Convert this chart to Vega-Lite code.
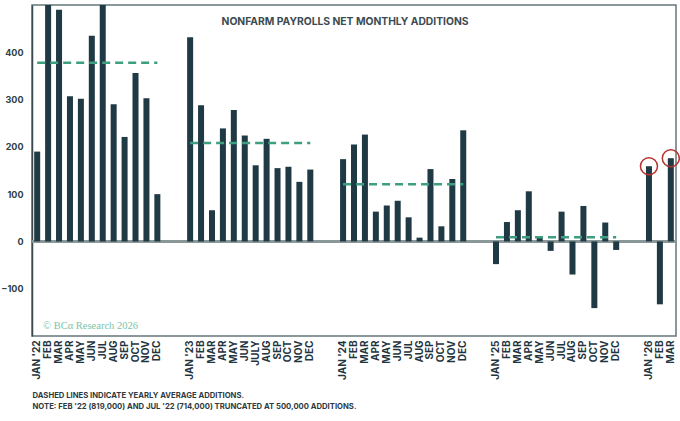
{
  "$schema": "https://vega.github.io/schema/vega-lite/v6.json",
  "width": 644,
  "height": 331,
  "autosize": {"type": "none"},
  "padding": {"left": 32, "top": 5, "right": 4, "bottom": 85},
  "title": {
    "text": "NONFARM PAYROLLS NET MONTHLY ADDITIONS",
    "anchor": "middle",
    "offset": -22,
    "dx": -9,
    "fontSize": 10.3,
    "fontWeight": "bold",
    "font": "Inter",
    "color": "#3b4b51"
  },
  "datasets": {
    "payrolls": [
      {"month": "JAN '22", "value": 190},
      {"month": "FEB|22", "value": 500},
      {"month": "MAR|22", "value": 490},
      {"month": "APR|22", "value": 307},
      {"month": "MAY|22", "value": 302},
      {"month": "JUN|22", "value": 435},
      {"month": "JUL|22", "value": 500},
      {"month": "AUG|22", "value": 290},
      {"month": "SEP|22", "value": 221},
      {"month": "OCT|22", "value": 356},
      {"month": "NOV|22", "value": 303},
      {"month": "DEC|22", "value": 100},
      {"month": "JAN '23", "value": 432},
      {"month": "FEB|23", "value": 288},
      {"month": "MAR|23", "value": 66},
      {"month": "APR|23", "value": 239},
      {"month": "MAY|23", "value": 278},
      {"month": "JUN|23", "value": 224},
      {"month": "JULY|23", "value": 161},
      {"month": "AUG|23", "value": 217},
      {"month": "SEP|23", "value": 155},
      {"month": "OCT|23", "value": 158},
      {"month": "NOV|23", "value": 126},
      {"month": "DEC|23", "value": 152},
      {"month": "JAN '24", "value": 174},
      {"month": "FEB|24", "value": 205},
      {"month": "MAR|24", "value": 226},
      {"month": "APR|24", "value": 63},
      {"month": "MAY|24", "value": 76},
      {"month": "JUN|24", "value": 86},
      {"month": "JUL|24", "value": 51},
      {"month": "AUG|24", "value": 8},
      {"month": "SEP|24", "value": 153},
      {"month": "OCT|24", "value": 32},
      {"month": "NOV|24", "value": 132},
      {"month": "DEC|24", "value": 235},
      {"month": "JAN '25", "value": -48},
      {"month": "FEB|25", "value": 41},
      {"month": "MAR|25", "value": 66},
      {"month": "APR|25", "value": 106},
      {"month": "MAY|25", "value": 11},
      {"month": "JUN|25", "value": -20},
      {"month": "JUL|25", "value": 63},
      {"month": "AUG|25", "value": -70},
      {"month": "SEP|25", "value": 75},
      {"month": "OCT|25", "value": -141},
      {"month": "NOV|25", "value": 40},
      {"month": "DEC|25", "value": -18},
      {"month": "JAN '26", "value": 159, "circled": true},
      {"month": "FEB|26", "value": -133},
      {"month": "MAR|26", "value": 176, "circled": true}
    ],
    "averages": [
      {"year": 2022, "start": "JAN '22", "end": "DEC|22", "avg": 378},
      {"year": 2023, "start": "JAN '23", "end": "DEC|23", "avg": 208},
      {"year": 2024, "start": "JAN '24", "end": "DEC|24", "avg": 121},
      {"year": 2025, "start": "JAN '25", "end": "DEC|25", "avg": 9}
    ],
    "credit": [
      {"text": "© BCα Research 2026"}
    ]
  },
  "encoding": {
    "x": {
      "field": "month",
      "type": "nominal",
      "sort": null,
      "scale": {
        "domain": [
          "JAN '22", "FEB|22", "MAR|22", "APR|22", "MAY|22", "JUN|22", "JUL|22", "AUG|22", "SEP|22", "OCT|22", "NOV|22", "DEC|22",
          "|a", "|b",
          "JAN '23", "FEB|23", "MAR|23", "APR|23", "MAY|23", "JUN|23", "JULY|23", "AUG|23", "SEP|23", "OCT|23", "NOV|23", "DEC|23",
          "|c", "|d",
          "JAN '24", "FEB|24", "MAR|24", "APR|24", "MAY|24", "JUN|24", "JUL|24", "AUG|24", "SEP|24", "OCT|24", "NOV|24", "DEC|24",
          "|e", "|f",
          "JAN '25", "FEB|25", "MAR|25", "APR|25", "MAY|25", "JUN|25", "JUL|25", "AUG|25", "SEP|25", "OCT|25", "NOV|25", "DEC|25",
          "|g", "|h",
          "JAN '26", "FEB|26", "MAR|26"
        ],
        "paddingInner": 0.45,
        "paddingOuter": 0.2
      },
      "axis": {
        "labelExpr": "split(datum.value, '|')[0]",
        "labelAngle": -90,
        "labelFont": "Inter",
        "labelFontSize": 10,
        "labelFontWeight": "bold",
        "labelColor": "#1f3540",
        "labelPadding": 4,
        "ticks": false,
        "domain": false,
        "title": [
          "DASHED LINES INDICATE YEARLY AVERAGE ADDITIONS.",
          "NOTE: FEB '22 (819,000) AND JUL '22 (714,000) TRUNCATED AT 500,000 ADDITIONS."
        ],
        "titleAnchor": "start",
        "titleAlign": "left",
        "titleFont": "Inter",
        "titleFontSize": 7.7,
        "titleFontWeight": "bold",
        "titleColor": "#2d3a3f",
        "titleLineHeight": 11,
        "titlePadding": 12
      }
    }
  },
  "layer": [
    {
      "data": {"name": "payrolls"},
      "mark": {"type": "rule", "color": "#8a9799", "strokeWidth": 1.5},
      "encoding": {"x": null, "y": {"datum": 0, "type": "quantitative"}}
    },
    {
      "data": {"name": "payrolls"},
      "mark": {"type": "bar", "color": "#1f3a44"},
      "encoding": {
        "y": {
          "field": "value",
          "type": "quantitative",
          "scale": {"domain": [-200, 500], "nice": false},
          "axis": {
            "values": [-100, 0, 100, 200, 300, 400],
            "title": null,
            "grid": false,
            "ticks": false,
            "labelPadding": 9,
            "labelFont": "Inter",
            "labelFontSize": 9,
            "labelFontWeight": "bold",
            "labelColor": "#2d3e44",
            "domainColor": "#3c4a4e",
            "domainWidth": 1.5
          }
        }
      }
    },
    {
      "data": {"name": "averages"},
      "mark": {"type": "rule", "color": "#3d9e80", "strokeWidth": 2.5, "strokeDash": [8, 5]},
      "encoding": {
        "x": {"field": "start", "type": "nominal", "bandPosition": 0.5},
        "x2": {"field": "end", "bandPosition": 0.5},
        "y": {"field": "avg", "type": "quantitative"}
      }
    },
    {
      "data": {"name": "payrolls"},
      "transform": [{"filter": "datum.circled"}],
      "mark": {"type": "point", "shape": "circle", "filled": false, "size": 290, "stroke": "#b5342f", "strokeWidth": 1.5, "opacity": 1},
      "encoding": {
        "y": {"field": "value", "type": "quantitative"}
      }
    },
    {
      "data": {"name": "credit"},
      "mark": {"type": "text", "font": "Liberation Serif", "fontSize": 10.5, "color": "#7cc4a8", "align": "left", "baseline": "middle", "dx": -2},
      "encoding": {
        "text": {"field": "text"},
        "x": {"datum": "FEB|22", "bandPosition": 0},
        "y": {"datum": -179, "type": "quantitative"}
      }
    }
  ],
  "config": {
    "view": {"stroke": "#66767a", "strokeWidth": 1.5},
    "background": "white"
  }
}
